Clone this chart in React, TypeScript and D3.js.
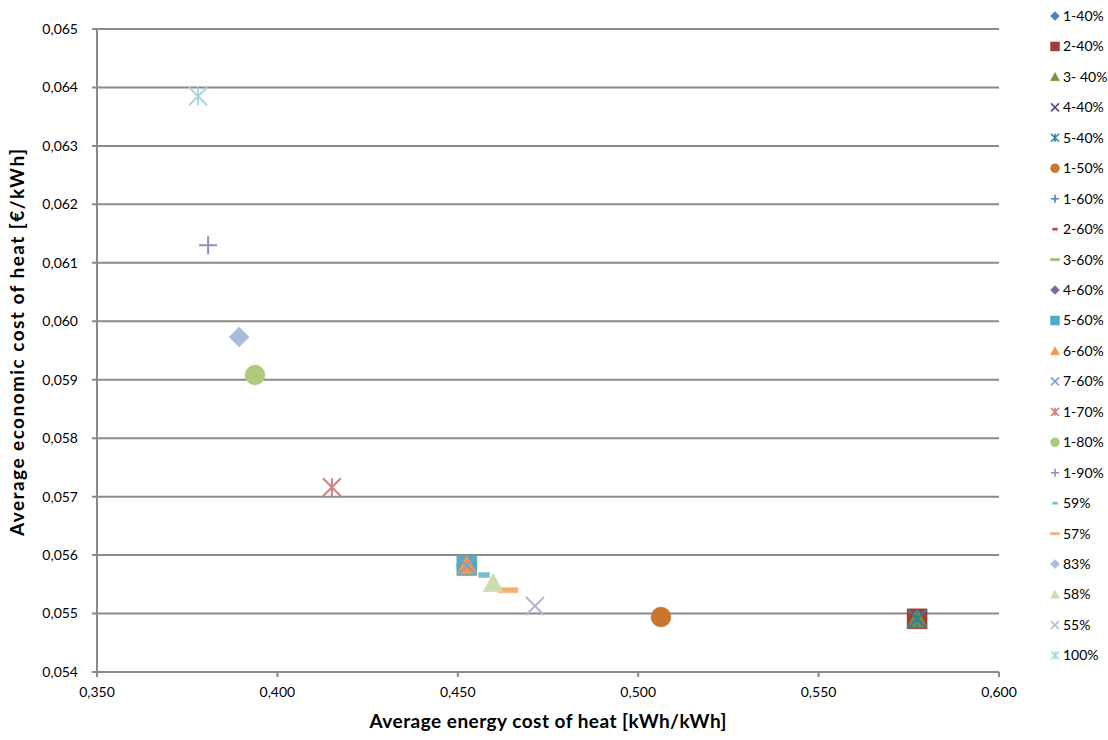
import React from "react";
import * as d3 from "d3";

const seriesNames = ["1-40%", "2-40%", "3- 40%", "4-40%", "5-40%", "1-50%", "1-60%", "2-60%", "3-60%", "4-60%", "5-60%", "6-60%", "7-60%", "1-70%", "1-80%", "1-90%", "59%", "57%", "83%", "58%", "55%", "100%"];
const energyCost = [0.5773, 0.5773, 0.5773, 0.5773, 0.5773, 0.5063, 0.4525, 0.4525, 0.4525, 0.4525, 0.4525, 0.4525, 0.4525, 0.4151, 0.3938, 0.3808, 0.4573, 0.4639, 0.3894, 0.4598, 0.4714, 0.378];
const economicCost = [0.05491, 0.05491, 0.05491, 0.05491, 0.05491, 0.05494, 0.05582, 0.05582, 0.05582, 0.05582, 0.05582, 0.05582, 0.05582, 0.05716, 0.05908, 0.0613, 0.05566, 0.0554, 0.05973, 0.05552, 0.05513, 0.06385];

const xTicks = [0.35, 0.4, 0.45, 0.5, 0.55, 0.6];
const yTicks = [0.054, 0.055, 0.056, 0.057, 0.058, 0.059, 0.06, 0.061, 0.062, 0.063, 0.064, 0.065];

const xTitle = "Average energy cost of heat [kWh/kWh]";
const yTitle = "Average economic cost of heat [€/kWh]";

// styles (shape, colour) per series
const seriesShapes = ["diamond", "square", "triangle", "x", "asterisk", "circle", "plus", "shortDash", "longDash", "diamond", "square", "triangle", "x", "asterisk", "circle", "plus", "shortDash", "longDash", "diamond", "triangle", "x", "asterisk"];
const seriesColors = ["#4A7EBB", "#A33B38", "#77933C", "#604A7B", "#31859C", "#C9772F", "#4F81BD", "#C0504D", "#9BBB59", "#8064A2", "#4BACC6", "#F79646", "#7F9FD3", "#D4807E", "#AFCA7D", "#9D88BA", "#78BFD3", "#F9AC70", "#A9BBDF", "#CADCB0", "#BDB2D2", "#A9D6E3"];

const W = 1108;
const H = 740;
const plot = { left: 97, right: 999, top: 29, bottom: 672 };

const locale = d3.formatLocale({ decimal: ",", thousands: ".", grouping: [3], currency: ["", "€"] });
const fmt = locale.format(".3f");

function markerPath(shape: string, s: number): string {
  const h = s / 2;
  switch (shape) {
    case "circle": {
      const p = d3.path();
      p.arc(0, 0, h, 0, Math.PI * 2);
      p.closePath();
      return p.toString();
    }
    case "square":
      return `M${-h},${-h}H${h}V${h}H${-h}Z`;
    case "diamond":
      return `M0,${-h}L${h},0L0,${h}L${-h},0Z`;
    case "triangle":
      return `M0,${-h}L${h},${h * 0.85}L${-h},${h * 0.85}Z`;
    case "x":
      return `M${-h},${-h}L${h},${h}M${h},${-h}L${-h},${h}`;
    case "asterisk":
      return `M${-h},${-h}L${h},${h}M${h},${-h}L${-h},${h}M0,${-h}L0,${h}`;
    case "plus":
      return `M${-h},0L${h},0M0,${-h}L0,${h}`;
    case "shortDash":
      return `M${-h * 0.55},${-h * 0.25}H${h * 0.55}V${h * 0.25}H${-h * 0.55}Z`;
    case "longDash":
      return `M${-h},${-h * 0.25}H${h}V${h * 0.25}H${-h}Z`;
  }
  return "";
}

const isStroke = (shape: string) => shape === "x" || shape === "asterisk" || shape === "plus";

export default function App() {
  const x = d3.scaleLinear().domain([0.35, 0.6]).range([plot.left, plot.right]);
  const y = d3.scaleLinear().domain([0.054, 0.065]).range([plot.bottom, plot.top]);
  const font = "Lato, 'Open Sans', sans-serif";
  const grid = "#8A8A8A";

  const legendX = 1055;
  const legendY0 = 16;
  const legendStep = 30.45;

  return (
    <svg width={W} height={H} style={{ position: "absolute", left: 0, top: 0, background: "#fff" }} fontFamily={font}>
      <rect x={0} y={0} width={W} height={H} fill="#fff" />
      {/* gridlines */}
      {yTicks.map((t) => (
        <line key={"g" + t} x1={plot.left - 5} x2={plot.right} y1={y(t)} y2={y(t)} stroke={grid} strokeWidth={2} />
      ))}
      {/* y axis */}
      <line x1={plot.left} x2={plot.left} y1={plot.top} y2={plot.bottom} stroke={grid} strokeWidth={2} />
      {/* x ticks */}
      {xTicks.map((t) => (
        <line key={"xt" + t} x1={x(t)} x2={x(t)} y1={plot.bottom} y2={plot.bottom + 5} stroke={grid} strokeWidth={2} />
      ))}
      {yTicks.map((t) => (
        <text key={"yl" + t} x={plot.left - 19} y={y(t)} dy="0.35em" textAnchor="end" fontSize={14} fill="#000">
          {fmt(t)}
        </text>
      ))}
      {xTicks.map((t) => (
        <text key={"xl" + t} x={x(t)} y={plot.bottom + 25} textAnchor="middle" fontSize={14} fill="#000">
          {fmt(t)}
        </text>
      ))}
      <text x={(plot.left + plot.right) / 2} y={728} textAnchor="middle" fontSize={19} fontWeight="bold" fill="#000" textLength={357} lengthAdjust="spacing">
        {xTitle}
      </text>
      <text transform={`translate(24,${(plot.top + plot.bottom) / 2 - 8}) rotate(-90)`} textAnchor="middle" fontSize={19} fontWeight="bold" fill="#000" textLength={387} lengthAdjust="spacing">
        {yTitle}
      </text>
      {/* points */}
      {seriesNames.map((name, i) => {
        const shape = seriesShapes[i];
        const c = seriesColors[i];
        const stroke = isStroke(shape);
        return (
          <path
            key={"p" + name}
            transform={`translate(${x(energyCost[i])},${y(economicCost[i])})`}
            d={markerPath(shape, stroke ? 18 : 20)}
            fill={stroke ? "none" : c}
            stroke={c}
            strokeWidth={stroke ? 2 : 0.5}
          />
        );
      })}
      {/* legend */}
      {seriesNames.map((name, i) => {
        const shape = seriesShapes[i];
        const c = seriesColors[i];
        const stroke = isStroke(shape);
        const ly = legendY0 + i * legendStep;
        return (
          <g key={"l" + name} transform={`translate(${legendX},${ly})`}>
            <path d={markerPath(shape, stroke ? 8 : 9)} fill={stroke ? "none" : c} stroke={c} strokeWidth={stroke ? 1.6 : 0.5} />
            <text x={8} y={0} dy="0.35em" fontSize={14} fill="#000">
              {name}
            </text>
          </g>
        );
      })}
    </svg>
  );
}
